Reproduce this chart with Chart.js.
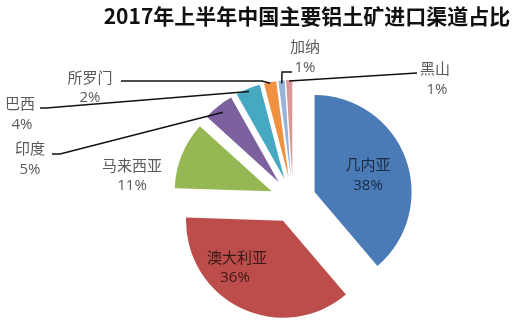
<!DOCTYPE html>
<html>
<head>
<meta charset="utf-8">
<script src="https://cdn.jsdelivr.net/npm/chart.js@4"></script>
<style>
  html, body { margin: 0; padding: 0; background: #fff; }
  #wrap { width: 513px; height: 324px; position: relative; }
</style>
</head>
<body>
<div id="wrap"><canvas id="pie"></canvas></div>
<script>
// 数据
const chartTitle = '2017年上半年中国主要铝土矿进口渠道占比';
const countries = ['几内亚', '澳大利亚', '马来西亚', '印度', '巴西', '所罗门', '加纳', '黑山'];
const shares = [38, 36, 11, 5, 4, 2, 1, 1];
const sliceColors = ['#4a7bb7', '#bd4d4a', '#95b754', '#7d619f', '#47a8c2', '#f09141', '#98b2d9', '#d99896'];

// 标签位置 (名称中心, 百分比中心, 引线)
const labelLayout = [
  { name: [368, 164], pct: [368, 186], color: '#1c2c44' },
  { name: [237, 257], pct: [235, 278], color: '#3a1a1a' },
  { name: [132, 165], pct: [132, 186], color: '#5a5a5a' },
  { name: [30, 148], pct: [30, 170], color: '#5a5a5a', line: [[52, 154], [60, 154]], r: 0.92 },
  { name: [20, 103], pct: [22, 125], color: '#5a5a5a', line: [[40, 108], [46, 108]], r: 0.97 },
  { name: [90, 77], pct: [90, 98], color: '#5a5a5a', line: [[121, 81], [262, 81]], r: 0.99 },
  { name: [305, 46], pct: [305, 68], color: '#5a5a5a', line: [[292, 72], [282, 72]], r: 0.97 },
  { name: [435, 68], pct: [437, 90], color: '#5a5a5a', line: [[417, 73]], r: 0.99 }
];

const EXPLODE = 23;

// 把每个扇区沿平分线向外移动
const explodePlugin = {
  id: 'explode',
  afterDatasetUpdate(chart, args) {
    args.meta.data.forEach(arc => {
      const mid = (arc.startAngle + arc.endAngle) / 2;
      arc.x += Math.cos(mid) * EXPLODE;
      arc.y += Math.sin(mid) * EXPLODE;
    });
  }
};

// 标题、标签和引线
const labelPlugin = {
  id: 'labels',
  afterDraw(chart) {
    const ctx = chart.ctx;
    const arcs = chart.getDatasetMeta(0).data;
    ctx.save();

    ctx.fillStyle = '#111';
    ctx.font = 'bold 21px "Noto Sans CJK SC", sans-serif';
    ctx.textAlign = 'center';
    ctx.textBaseline = 'middle';
    ctx.fillText(chartTitle, 307, 16);

    ctx.strokeStyle = '#111';
    ctx.lineWidth = 1.5;
    labelLayout.forEach((lab, i) => {
      if (!lab.line) return;
      const arc = arcs[i];
      const mid = (arc.startAngle + arc.endAngle) / 2;
      const r = arc.outerRadius * lab.r;
      ctx.beginPath();
      ctx.moveTo(lab.line[0][0], lab.line[0][1]);
      lab.line.slice(1).forEach(p => ctx.lineTo(p[0], p[1]));
      ctx.lineTo(arc.x + Math.cos(mid) * r, arc.y + Math.sin(mid) * r);
      ctx.stroke();
    });

    const total = shares.reduce((a, b) => a + b, 0);
    labelLayout.forEach((lab, i) => {
      ctx.fillStyle = lab.color;
      ctx.font = '15px "Noto Sans CJK SC", sans-serif';
      ctx.fillText(countries[i], lab.name[0], lab.name[1]);
      ctx.font = '15px "Open Sans", sans-serif';
      ctx.fillText(shares[i] + '%', lab.pct[0], lab.pct[1]);
    });
    ctx.restore();
  }
};

new Chart(document.getElementById('pie'), {
  type: 'pie',
  data: {
    labels: countries,
    datasets: [{
      data: shares,
      backgroundColor: sliceColors,
      borderWidth: 0
    }]
  },
  options: {
    responsive: true,
    maintainAspectRatio: false,
    animation: false,
    events: [],
    layout: { padding: { left: 196, right: 123, top: 103, bottom: 27 } },
    plugins: {
      legend: { display: false },
      tooltip: { enabled: false }
    }
  },
  plugins: [explodePlugin, labelPlugin]
});
</script>
</body>
</html>
